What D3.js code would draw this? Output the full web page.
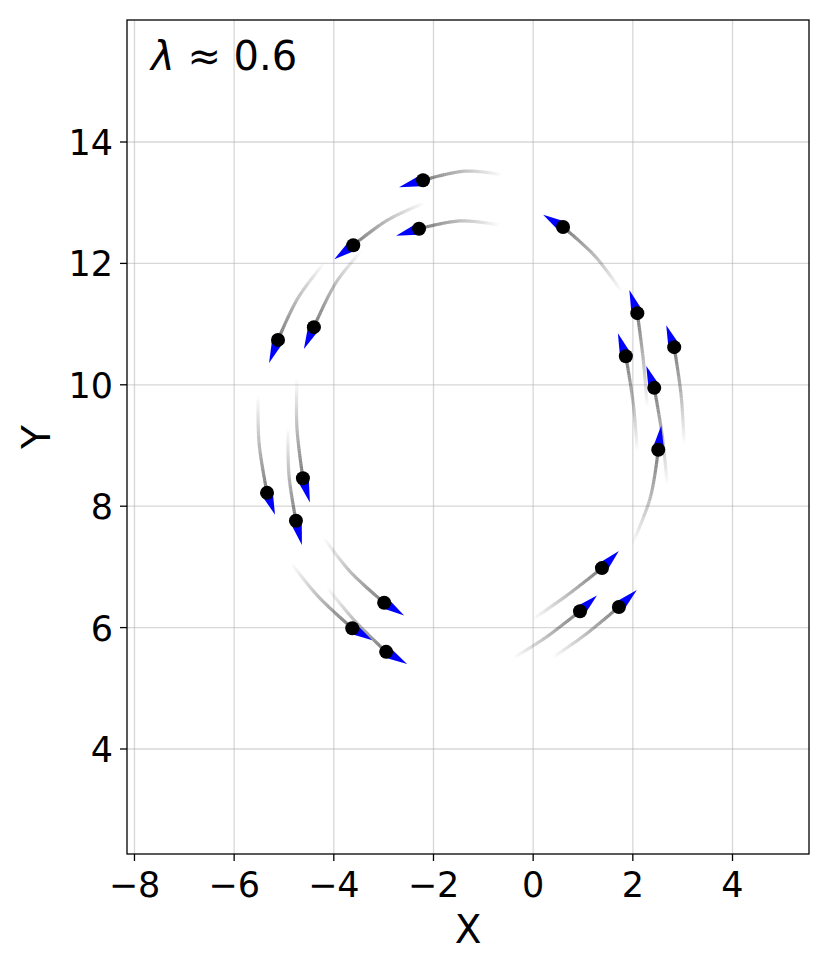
<!DOCTYPE html>
<html>
<head>
<meta charset="utf-8">
<script src="https://cdn.jsdelivr.net/npm/d3@7"></script>
<style>
  body { margin: 0; background: #fff; }
  svg { display: block; }
</style>
</head>
<body>
<svg id="chart" width="830" height="969"></svg>
<script>
// ---- data ----
const xTicks = [-8, -6, -4, -2, 0, 2, 4];
const yTicks = [4, 6, 8, 10, 12, 14];
const xDomain = [-8.15, 5.535];
const yDomain = [2.27, 16.01];
const annotation = "0.6";

// particle positions
const px = [-2.21, -2.29, -3.61, -5.12, -4.40, -5.34, -4.62, -4.76, -2.99, -3.63,
            -2.95, 0.94, 1.38, 1.72, 0.60, 2.09, 1.86, 2.83, 2.43, 2.51];
const py = [13.37, 12.57, 12.30, 10.74, 10.95, 8.22, 8.46, 7.76, 6.41, 5.99,
            5.60, 6.27, 6.98, 6.34, 12.60, 11.18, 10.47, 10.62, 9.95, 8.93];
// velocity (arrow) components
const vx = [-0.48, -0.46, -0.38, -0.18, -0.20, 0.16, 0.14, 0.12, 0.40, 0.40,
            0.42, 0.34, 0.34, 0.36, -0.40, -0.16, -0.16, -0.16, -0.16, 0.06];
const vy = [-0.115, -0.115, -0.23, -0.38, -0.36, -0.36, -0.40, -0.40, -0.21, -0.20,
            -0.20, 0.26, 0.28, 0.28, 0.20, 0.38, 0.38, 0.36, 0.36, 0.40];
// trail midpoints and far ends
const midX = [-1.37, -1.47, -2.91, -4.72, -3.96, -5.50, -4.74, -4.90, -3.67, -4.31,
              -3.60, 0.24, 0.66, 1.04, 1.24, 2.21, 2.01, 2.97, 2.59, 2.35];
const midY = [13.52, 12.70, 12.72, 11.43, 11.68, 9.04, 9.29, 8.51, 6.92, 6.51,
              6.13, 5.83, 6.52, 5.88, 12.12, 10.41, 9.68, 9.82, 9.16, 8.14];
const endX = [-0.62, -0.66, -2.17, -4.18, -3.43, -5.52, -4.74, -4.92, -4.21, -4.86,
              -4.14, -0.40, -0.02, 0.38, 1.78, 2.29, 2.09, 3.03, 2.69, 1.98];
const endY = [13.46, 12.63, 13.00, 12.02, 12.22, 9.83, 10.11, 9.30, 7.49, 7.07,
              6.67, 5.50, 6.13, 5.50, 11.53, 9.62, 8.89, 9.01, 8.35, 7.36];

// ---- layout ----
const svg = d3.select("#chart");
const L = 127, R = 809, T = 20, B = 854;
const x = d3.scaleLinear().domain(xDomain).range([L, R]);
const y = d3.scaleLinear().domain(yDomain).range([B, T]);
const font = "DejaVu Sans, sans-serif";

// grid
const grid = svg.append("g");
grid.selectAll(".gx").data(xTicks).join("line")
  .attr("x1", d => x(d)).attr("x2", d => x(d)).attr("y1", T).attr("y2", B)
  .attr("stroke", "#b0b0b0").attr("stroke-opacity", 0.5).attr("stroke-width", 1.3);
grid.selectAll(".gy").data(yTicks).join("line")
  .attr("y1", d => y(d)).attr("y2", d => y(d)).attr("x1", L).attr("x2", R)
  .attr("stroke", "#b0b0b0").attr("stroke-opacity", 0.5).attr("stroke-width", 1.3);

// trails
const line = d3.line().curve(d3.curveCatmullRom.alpha(0.5));
const trailG = svg.append("g");
const tmp = svg.append("path").attr("fill", "none").attr("stroke", "none");
px.forEach((_, i) => {
  const pts = [[x(px[i]), y(py[i])], [x(midX[i]), y(midY[i])], [x(endX[i]), y(endY[i])]];
  tmp.attr("d", line(pts));
  const node = tmp.node();
  const len = node.getTotalLength();
  const N = 40;
  for (let k = 0; k < N; k++) {
    const a = node.getPointAtLength(len * k / N);
    const b = node.getPointAtLength(len * (k + 1) / N);
    const t = (k + 0.5) / N;
    trailG.append("line")
      .attr("x1", a.x).attr("y1", a.y).attr("x2", b.x).attr("y2", b.y)
      .attr("stroke", "#4a4a4a")
      .attr("stroke-opacity", 0.75 * (1 - t))
      .attr("stroke-width", 3.2)
      .attr("stroke-linecap", "butt");
  }
});
tmp.remove();

// arrows
const arrowG = svg.append("g");
px.forEach((_, i) => {
  const x0 = x(px[i]), y0 = y(py[i]);
  const x1 = x(px[i] + vx[i]), y1 = y(py[i] + vy[i]);
  const dx = x1 - x0, dy = y1 - y0;
  const l = Math.hypot(dx, dy);
  const nx = -dy / l, ny = dx / l;
  const hw = 6.5;
  const bx = x0 - dx / l * 2, by = y0 - dy / l * 2;
  arrowG.append("path")
    .attr("d", `M${bx + nx * hw},${by + ny * hw}L${x1},${y1}L${bx - nx * hw},${by - ny * hw}Z`)
    .attr("fill", "#0000ff");
});

// dots
svg.append("g").selectAll("circle").data(px).join("circle")
  .attr("cx", (d, i) => x(px[i])).attr("cy", (d, i) => y(py[i]))
  .attr("r", 7).attr("fill", "#000");

// spines
svg.append("rect").attr("x", L).attr("y", T).attr("width", R - L).attr("height", B - T)
  .attr("fill", "none").attr("stroke", "#000").attr("stroke-width", 1.3);

// ticks and labels
const minus = v => (v < 0 ? "\u2212" + Math.abs(v) : "" + v);
const xt = svg.append("g");
xTicks.forEach(v => {
  xt.append("line").attr("x1", x(v)).attr("x2", x(v)).attr("y1", B).attr("y2", B + 7)
    .attr("stroke", "#000").attr("stroke-width", 1.3);
  xt.append("text").attr("x", x(v)).attr("y", B + 43).attr("text-anchor", "middle")
    .attr("font-family", font).attr("font-size", 35).text(minus(v));
});
const yt = svg.append("g");
yTicks.forEach(v => {
  yt.append("line").attr("x1", L - 7).attr("x2", L).attr("y1", y(v)).attr("y2", y(v))
    .attr("stroke", "#000").attr("stroke-width", 1.3);
  yt.append("text").attr("x", L - 14).attr("y", y(v) + 13).attr("text-anchor", "end")
    .attr("font-family", font).attr("font-size", 35).text(minus(v));
});

svg.append("text").attr("x", (L + R) / 2).attr("y", 943).attr("text-anchor", "middle")
  .attr("font-family", font).attr("font-size", 39).text("X");
svg.append("text").attr("transform", `translate(50,${(T + B) / 2}) rotate(-90)`)
  .attr("text-anchor", "middle")
  .attr("font-family", font).attr("font-size", 39).text("Y");

// annotation
const ann = svg.append("text").attr("x", 151).attr("y", 70)
  .attr("font-family", font).attr("font-size", 40);
ann.append("tspan").attr("font-style", "italic").text("\u03bb");
ann.append("tspan").text(" \u2248 " + annotation);
</script>
</body>
</html>
